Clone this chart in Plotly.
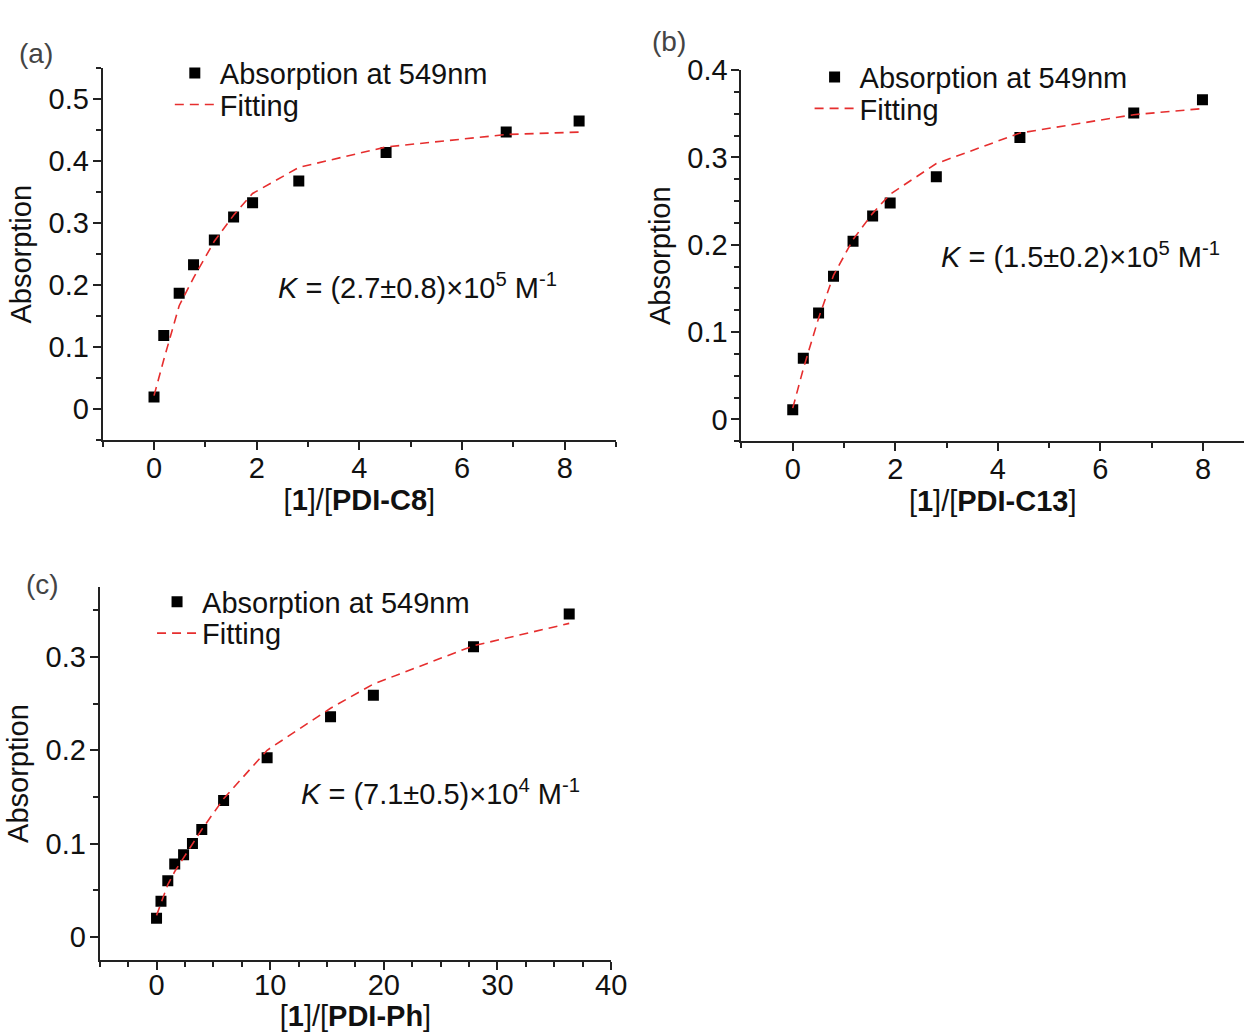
import plotly.graph_objects as go

# ---------------- data ----------------
# panel (a)  [1]/[PDI-C8]
xa = [0.0, 0.19, 0.49, 0.77, 1.175, 1.55, 1.92, 2.82, 4.52, 6.86, 8.28]
ya = [0.020, 0.119, 0.187, 0.233, 0.273, 0.310, 0.333, 0.368, 0.414, 0.447, 0.465]
fa = [0.022, 0.080, 0.167, 0.212, 0.271, 0.313, 0.348, 0.390, 0.423, 0.443, 0.447]

# panel (b)  [1]/[PDI-C13]
xb = [0.0, 0.206, 0.504, 0.795, 1.176, 1.558, 1.90, 2.80, 4.43, 6.65, 7.99]
yb = [0.011, 0.070, 0.122, 0.164, 0.204, 0.233, 0.248, 0.278, 0.323, 0.351, 0.366]
fb = [0.013, 0.058, 0.116, 0.165, 0.206, 0.236, 0.258, 0.293, 0.328, 0.349, 0.356]

# panel (c)  [1]/[PDI-Ph]
xc = [0.0, 0.39, 0.99, 1.60, 2.38, 3.16, 3.98, 5.90, 9.73, 15.31, 19.08, 27.89, 36.31]
yc = [0.020, 0.038, 0.060, 0.078, 0.088, 0.100, 0.115, 0.146, 0.192, 0.236, 0.259, 0.311, 0.346]
fc = [0.023, 0.036, 0.056, 0.070, 0.085, 0.100, 0.115, 0.148, 0.200, 0.245, 0.271, 0.312, 0.336]

k_texts = [
    "<i>K</i> = (2.7±0.8)×10<sup>5</sup> M<sup>-1</sup>",
    "<i>K</i> = (1.5±0.2)×10<sup>5</sup> M<sup>-1</sup>",
    "<i>K</i> = (7.1±0.5)×10<sup>4</sup> M<sup>-1</sup>",
]
x_titles = [
    "[<b>1</b>]/[<b>PDI-C8</b>]",
    "[<b>1</b>]/[<b>PDI-C13</b>]",
    "[<b>1</b>]/[<b>PDI-Ph</b>]",
]
y_title = "Absorption"
panel_labels = ["(a)", "(b)", "(c)"]
legend_names = ["Absorption at 549nm", "Fitting"]

FONT = "Liberation Sans, Arial, Helvetica, sans-serif"
RED = "#e62e2e"
AX = "#222222"
TXT = "#111111"
FS = 29
W, H = 1260, 1032

fig = go.Figure()

panels = [
    (xa, ya, fa, "x", "y", "legend", "legend2"),
    (xb, yb, fb, "x2", "y2", "legend3", "legend4"),
    (xc, yc, fc, "x3", "y3", "legend5", "legend6"),
]
for (xs, ys, fs, xr, yr, lg1, lg2) in panels:
    fig.add_trace(go.Scatter(
        x=xs, y=ys, mode="markers", name=legend_names[0],
        marker=dict(symbol="square", size=11, color="black"),
        xaxis=xr, yaxis=yr, legend=lg1, showlegend=True))
    fig.add_trace(go.Scatter(
        x=xs, y=fs, mode="lines", name=legend_names[1],
        line=dict(color=RED, width=1.6, dash="9px,6px"),
        xaxis=xr, yaxis=yr, legend=lg2, showlegend=True))


def axis_common(domain, rng, anchor, dtick, minor_dtick, title, is_x,
                lab_off=None, title_off=None):
    if lab_off is None:
        lab_off = -7 if is_x else -2
    if title_off is None:
        title_off = 5 if is_x else 8
    d = dict(
        domain=domain, range=rng, anchor=anchor,
        showline=True, linecolor=AX, linewidth=2, mirror=False,
        showgrid=False, zeroline=False,
        tick0=0, dtick=dtick,
        ticks="outside", ticklen=8, tickwidth=2, tickcolor=AX,
        ticklabelstandoff=lab_off,
        tickfont=dict(family=FONT, size=FS, color=TXT),
        minor=dict(ticks="outside", ticklen=5, tickwidth=1.5, tickcolor=AX,
                   showgrid=False, dtick=minor_dtick, tick0=0),
        title=dict(text=title, standoff=title_off,
                   font=dict(family=FONT, size=FS, color=TXT)),
    )
    return d


def px_x(a, b):
    return [a / W, min(b / W, 1.0)]


def px_y(top, bottom):
    return [1 - bottom / H, 1 - top / H]


layout = dict(
    width=W, height=H,
    margin=dict(l=0, r=0, t=0, b=0),
    paper_bgcolor="white", plot_bgcolor="white",
    font=dict(family=FONT, size=FS, color=TXT),
    xaxis=axis_common(px_x(104, 624), [-1, 9], "y", 2, 1, x_titles[0], True),
    yaxis=axis_common(px_y(53, 431), [-0.05, 0.55], "x", 0.1, 0.05, y_title, False),
    xaxis2=axis_common(px_x(751, 1260), [-1, 8.8], "y2", 2, 1, x_titles[1], True),
    yaxis2=axis_common(px_y(55, 432), [-0.025, 0.4], "x2", 0.1, 0.025, y_title, False),
    xaxis3=axis_common(px_x(101, 619), [-5, 40], "y3", 10, 2.5, x_titles[2], True,
                       lab_off=-10, title_off=9),
    yaxis3=axis_common(px_y(580, 959), [-0.025, 0.375], "x3", 0.1, 0.05, y_title, False),
)


def leg(xpx, ymid):
    return dict(x=xpx / W, y=1 - ymid / H, xanchor="left", yanchor="middle",
                bgcolor="rgba(0,0,0,0)", borderwidth=0, itemwidth=40,
                font=dict(family=FONT, size=FS, color=TXT))


# legend item positions (left px, centre y px): marker row and fit row per panel
layout.update(
    legend=leg(172, 58), legend2=leg(172, 90),
    legend3=leg(820, 62), legend4=leg(820, 94),
    legend5=leg(154, 595), legend6=leg(154, 627),
)

ann = []
for txt, (xp, yp) in zip(panel_labels, [(17, 38), (658, 26), (24, 577)]):
    ann.append(dict(text=txt, x=xp / W, y=1 - yp / H, xref="paper", yref="paper",
                    xanchor="left", yanchor="middle", showarrow=False,
                    font=dict(family=FONT, size=28, color="#444444")))
for txt, (xp, yp) in zip(k_texts, [(280, 274), (951, 243), (303, 788)]):
    ann.append(dict(text=txt, x=xp / W, y=1 - yp / H, xref="paper", yref="paper",
                    xanchor="left", yanchor="middle", showarrow=False,
                    font=dict(family=FONT, size=FS, color=TXT)))
layout["annotations"] = ann

fig.update_layout(**layout)
fig.write_html("out.html")
